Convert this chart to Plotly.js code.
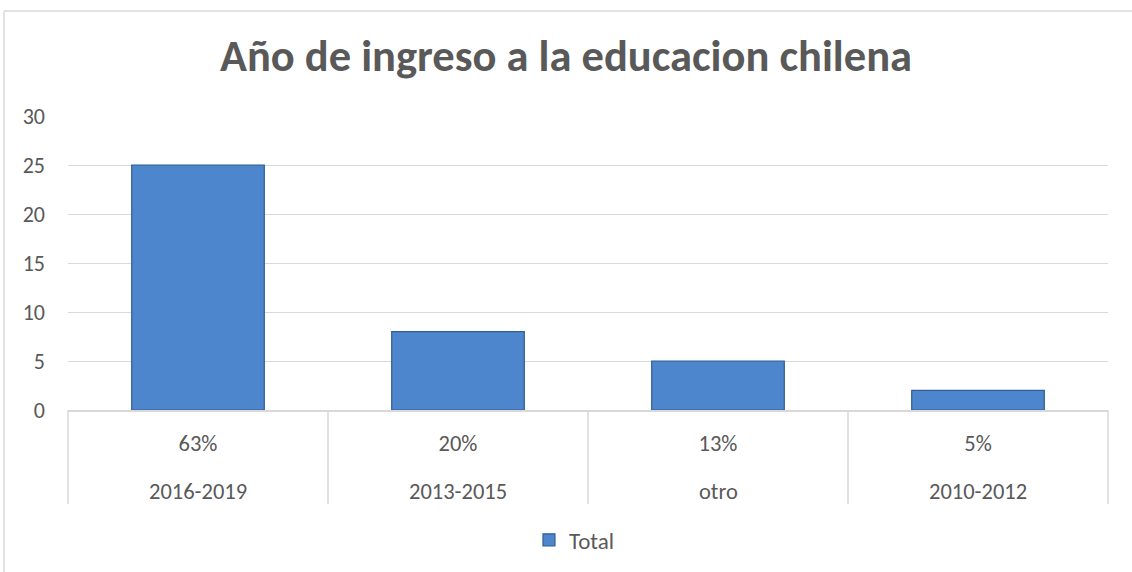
<!DOCTYPE html>
<html>
<head>
<meta charset="utf-8">
<script src="https://cdn.plot.ly/plotly-3.0.1.min.js"></script>
<style>html,body{margin:0;padding:0;background:#fff;}#chart{width:1132px;height:572px;}</style>
</head>
<body>
<div id="chart"></div>
<script>
const categories = ['2016-2019', '2013-2015', 'otro', '2010-2012'];
const values = [25, 8, 5, 2];
const percentLabels = ['63%', '20%', '13%', '5%'];
const yTicks = [0, 5, 10, 15, 20, 25, 30];
const seriesName = 'Total';
const chartTitle = 'Año de ingreso a la educacion chilena';

const textColor = '#595959';
const gridColor = '#d9d9d9';
const font = 'Carlito, "Open Sans", "Noto Sans", sans-serif';

const trace = {
  type: 'bar',
  x: categories,
  y: values,
  name: seriesName,
  width: 0.51,
  marker: { color: '#4d86cc', line: { color: '#2f5f96', width: 1.2 } },
  showlegend: true,
  hoverinfo: 'x+y'
};

const shapes = [];
for (let i = 0; i <= categories.length; i++) {
  shapes.push({
    type: 'line', xref: 'paper', yref: 'paper',
    x0: i / categories.length, x1: i / categories.length,
    y0: 0, y1: -0.32,
    line: { color: gridColor, width: 1.5 }
  });
}
// chart area border (left + top)
shapes.push({ type: 'line', xref: 'paper', yref: 'paper', x0: -0.0615, x1: -0.0615, y0: 1.357, y1: -0.6, line: { color: gridColor, width: 1.5 } });
shapes.push({ type: 'line', xref: 'paper', yref: 'paper', x0: -0.0615, x1: 1.05, y0: 1.357, y1: 1.357, line: { color: gridColor, width: 1.5 } });

const annotations = categories.map(c => ({
  x: c, xref: 'x', y: 0, yref: 'paper', yshift: -81,
  text: c, showarrow: false, xanchor: 'center', yanchor: 'middle',
  font: { family: font, size: 22.5, color: textColor }
}));

const layout = {
  width: 1132, height: 572,
  margin: { l: 68, r: 24, t: 116, b: 161 },
  paper_bgcolor: '#ffffff', plot_bgcolor: '#ffffff',
  title: {
    text: '<b>' + chartTitle + '</b>',
    x: 0.5, xref: 'container', xanchor: 'center',
    y: 1 - 55 / 572, yref: 'container', yanchor: 'middle',
    font: { family: font, size: 44.5, color: textColor }
  },
  xaxis: {
    type: 'category',
    tickmode: 'array', tickvals: categories, ticktext: percentLabels,
    ticks: '', showgrid: false, zeroline: false,
    showline: true, linecolor: gridColor, linewidth: 1.5,
    ticklabelstandoff: 12,
    tickfont: { family: font, size: 22.5, color: textColor },
    fixedrange: true
  },
  yaxis: {
    range: [0, 30], tickmode: 'array', tickvals: yTicks,
    showgrid: true, gridcolor: gridColor, gridwidth: 1,
    zeroline: false, showline: false, ticks: '',
    ticklabelstandoff: 22,
    tickfont: { family: font, size: 22, color: textColor },
    fixedrange: true
  },
  legend: {
    orientation: 'h', x: 0.487, xanchor: 'center', y: -0.437, yanchor: 'middle',
    font: { family: font, size: 23, color: textColor },
    itemwidth: 30
  },
  shapes: shapes,
  annotations: annotations,
  bargap: 0.49
};

Plotly.newPlot('chart', [trace], layout, { displayModeBar: false, staticPlot: true });
</script>
</body>
</html>
